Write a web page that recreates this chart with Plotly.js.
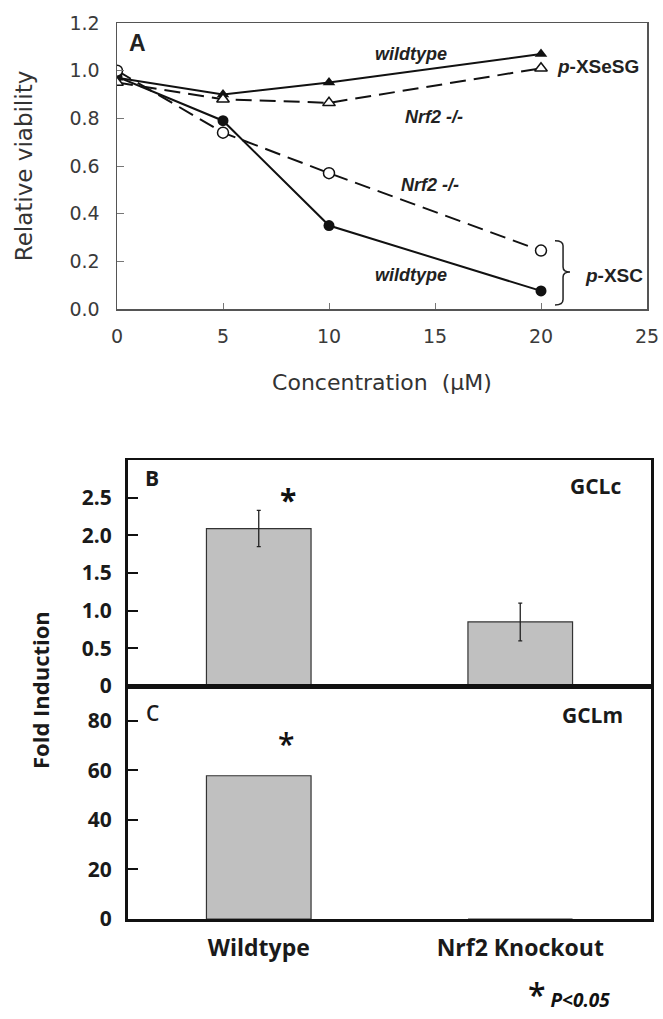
<!DOCTYPE html>
<html><head><meta charset="utf-8">
<script src="https://cdn.plot.ly/plotly-3.0.1.min.js"></script>
<style>html,body{margin:0;padding:0;background:#fff}</style>
</head><body><div id="chart" style="width:663px;height:1019px"></div>
<script>
// Panel A data
const concentration = [0, 5, 10, 20];
const wtXSeSG = [0.97, 0.90, 0.95, 1.07];
const koXSeSG = [0.95, 0.88, 0.865, 1.01];
const koXSC = [1.00, 0.74, 0.57, 0.245];
const wtXSC = [0.975, 0.79, 0.35, 0.076];
const concTicks = [0, 5, 10, 15, 20, 25];
const viabTicks = [0, 0.2, 0.4, 0.6, 0.8, 1.0, 1.2];
const viabTickText = ['0.0','0.2','0.4','0.6','0.8','1.0','1.2'];
// Panels B/C data
const groups = ['Wildtype', 'Nrf2 Knockout'];
const gclc = [2.09, 0.85];
const gclcErr = [0.24, 0.25];
const gclm = [57.8, 0];
const gclcTicks = [0, 0.5, 1.0, 1.5, 2.0, 2.5];
const gclcTickText = ['0', '0.5', '1.0', '1.5', '2.0', '2.5'];
const gclmTicks = [0, 20, 40, 60, 80];

const W = 663, H = 1019;
const px = v => v / W;
const py = v => 1 - v / H;

const lineFont = {family: 'Liberation Sans, Arial, sans-serif', size: 18, color: '#222', weight: 700};
const tickA = {family: 'DejaVu Sans, sans-serif', size: 19, color: '#3a3a3a'};
const boldBC = {family: 'Open Sans, sans-serif', size: 21, color: '#1a1a1a', weight: 700};

const traces = [
  {x: concentration, y: wtXSeSG, xaxis: 'x', yaxis: 'y', mode: 'lines+markers', name: 'wildtype p-XSeSG',
   line: {color: '#111', width: 2}, marker: {symbol: 'triangle-up', size: 11, color: '#111'}},
  {x: concentration, y: wtXSC, xaxis: 'x', yaxis: 'y', mode: 'lines+markers', name: 'wildtype p-XSC',
   line: {color: '#111', width: 2}, marker: {symbol: 'circle', size: 11, color: '#111'}},
  {x: concentration, y: koXSeSG, xaxis: 'x', yaxis: 'y', mode: 'lines+markers', name: 'Nrf2 -/- p-XSeSG',
   line: {color: '#111', width: 2, dash: '16px,8px'}, marker: {symbol: 'triangle-up', size: 11, color: '#fff', line: {color: '#111', width: 1.5}}},
  {x: concentration, y: koXSC, xaxis: 'x', yaxis: 'y', mode: 'lines+markers', name: 'Nrf2 -/- p-XSC',
   line: {color: '#111', width: 2, dash: '16px,8px'}, marker: {symbol: 'circle', size: 11, color: '#fff', line: {color: '#111', width: 1.5}}},
  {x: groups, y: gclc, xaxis: 'x2', yaxis: 'y2', type: 'bar', width: 0.4, name: 'GCLc',
   marker: {color: '#c0c0c0', line: {color: '#333', width: 1.2}},
   error_y: {type: 'data', array: gclcErr, color: '#222', thickness: 1.3, width: 2}},
  {x: groups, y: gclm, xaxis: 'x3', yaxis: 'y3', type: 'bar', width: 0.4, name: 'GCLm',
   marker: {color: '#c0c0c0', line: {color: '#333', width: 1.2}}}
];

const bcY = (extra) => Object.assign({
  ticks: 'inside', ticklen: 10, tickwidth: 2, tickcolor: '#111',
  showline: true, linecolor: '#111', linewidth: 3, mirror: true,
  showgrid: false, zeroline: false, tickfont: boldBC, ticklabelstandoff: 9
}, extra);

const layout = {
  width: W, height: H, margin: {l: 0, r: 0, t: 0, b: 0},
  paper_bgcolor: '#fff', plot_bgcolor: '#fff', showlegend: false,
  xaxis: {domain: [px(117), px(647)], anchor: 'y', range: [0, 25], tickvals: concTicks,
    ticks: 'inside', ticklen: 6, tickcolor: '#777', tickwidth: 1,
    showline: true, linecolor: '#555', linewidth: 1.5, mirror: true,
    showgrid: false, zeroline: false, tickfont: tickA, ticklabelstandoff: 10,
    title: {text: 'Concentration  (µM)', font: {family: 'DejaVu Sans, sans-serif', size: 22, color: '#333'}, standoff: 28}},
  yaxis: {domain: [py(309), py(23)], anchor: 'x', range: [0, 1.2], tickvals: viabTicks, ticktext: viabTickText,
    ticks: 'inside', ticklen: 7, tickcolor: '#777', tickwidth: 1,
    showline: true, linecolor: '#555', linewidth: 1.5, mirror: true,
    showgrid: false, zeroline: false, tickfont: tickA, ticklabelstandoff: 12,
    title: {text: 'Relative viability', font: {family: 'DejaVu Sans, sans-serif', size: 23, color: '#333'}, standoff: 30}},
  xaxis2: {domain: [px(128), px(651)], anchor: 'y2', type: 'category', range: [-0.5, 1.5],
    showticklabels: false, ticks: '', showline: true, linecolor: '#111', linewidth: 2.5, mirror: true,
    showgrid: false, zeroline: false},
  yaxis2: bcY({domain: [py(686), py(460)], anchor: 'x2', range: [0, 3.0], tickvals: gclcTicks, ticktext: gclcTickText}),
  xaxis3: {domain: [px(128), px(651)], anchor: 'y3', type: 'category', range: [-0.5, 1.5],
    ticks: '', showline: true, linecolor: '#111', linewidth: 2.5, mirror: true,
    showgrid: false, zeroline: false, ticklabelstandoff: 7,
    tickfont: {family: 'Open Sans, sans-serif', size: 23, color: '#1a1a1a', weight: 700}},
  yaxis3: bcY({domain: [py(919), py(686)], anchor: 'x3', range: [0, 94], tickvals: gclmTicks}),
  shapes: [
    {type: 'path', xref: 'x', yref: 'y', line: {color: '#222', width: 1.5},
     path: 'M 20.66,0.286 Q 21.04,0.286 21.04,0.265 L 21.04,0.176 Q 21.04,0.155 21.37,0.155 Q 21.04,0.155 21.04,0.134 L 21.04,0.04 Q 21.04,0.017 20.66,0.017'}
  ],
  annotations: [
    {xref: 'x domain', yref: 'y domain', x: 0.038, y: 0.93, xanchor: 'center', yanchor: 'middle', text: 'A', showarrow: false,
     font: {family: 'Liberation Sans, Arial, sans-serif', size: 23, color: '#222', weight: 700}},
    {xref: 'x', yref: 'y', x: 13.87, y: 1.07, xanchor: 'center', text: '<i>wildtype</i>', showarrow: false, font: lineFont},
    {xref: 'x', yref: 'y', x: 20.66, y: 1.016, xanchor: 'left', text: '<i>p</i>-XSeSG', showarrow: false,
     font: {family: 'Liberation Sans, Arial, sans-serif', size: 19, color: '#222', weight: 700}},
    {xref: 'x', yref: 'y', x: 14.95, y: 0.806, xanchor: 'center', text: '<i>Nrf2 -/-</i>', showarrow: false, font: lineFont},
    {xref: 'x', yref: 'y', x: 14.76, y: 0.52, xanchor: 'center', text: '<i>Nrf2 -/-</i>', showarrow: false, font: lineFont},
    {xref: 'x', yref: 'y', x: 13.87, y: 0.143, xanchor: 'center', text: '<i>wildtype</i>', showarrow: false, font: lineFont},
    {xref: 'x', yref: 'y', x: 21.98, y: 0.139, xanchor: 'left', text: '<i>p</i>-XSC', showarrow: false,
     font: {family: 'Liberation Sans, Arial, sans-serif', size: 19, color: '#222', weight: 700}},
    {xref: 'x2 domain', yref: 'y2 domain', x: 0.046, y: 0.92, xanchor: 'center', yanchor: 'middle', text: 'B', showarrow: false, font: boldBC},
    {xref: 'x2 domain', yref: 'y2 domain', x: 0.893, y: 0.885, xanchor: 'center', yanchor: 'middle', text: 'GCLc', showarrow: false, font: boldBC},
    {xref: 'x3 domain', yref: 'y3 domain', x: 0.046, y: 0.884, xanchor: 'center', yanchor: 'middle', text: 'C', showarrow: false,
     font: {family: 'Open Sans, sans-serif', size: 21, color: '#1a1a1a', weight: 600}},
    {xref: 'x3 domain', yref: 'y3 domain', x: 0.889, y: 0.876, xanchor: 'center', yanchor: 'middle', text: 'GCLm', showarrow: false, font: boldBC},
    {xref: 'x2', yref: 'y2', x: 0.11, y: 2.48, xanchor: 'center', text: '*', showarrow: false,
     font: {family: 'Open Sans, sans-serif', size: 30, color: '#111', weight: 700}},
    {xref: 'x3', yref: 'y3', x: 0.104, y: 71, xanchor: 'center', text: '*', showarrow: false,
     font: {family: 'Open Sans, sans-serif', size: 30, color: '#111', weight: 600}},
    {xref: 'paper', yref: 'paper', x: px(40), y: py(690), xanchor: 'center', yanchor: 'middle', text: 'Fold Induction', textangle: -90, showarrow: false,
     font: {family: 'Open Sans, sans-serif', size: 22, color: '#1a1a1a', weight: 700}},
    {xref: 'paper', yref: 'paper', x: px(526), y: py(1018), xanchor: 'left', yanchor: 'bottom',
     text: '<span style="font-size:32px;font-weight:600;font-style:normal">*</span> <i>P&lt;0.05</i>', showarrow: false,
     font: {family: 'Open Sans, sans-serif', size: 19, color: '#111', weight: 700}}
  ]
};

Plotly.newPlot('chart', traces, layout, {displayModeBar: false, staticPlot: true});
</script></body></html>
